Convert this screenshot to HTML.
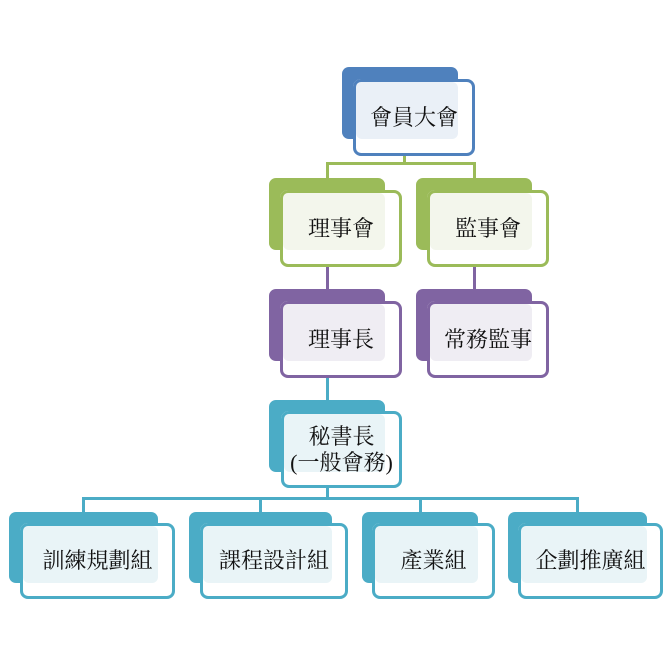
<!DOCTYPE html>
<html><head><meta charset="utf-8"><style>
body{margin:0;width:668px;height:668px;background:#fff;position:relative;overflow:hidden;font-family:"Liberation Serif","Noto Serif CJK SC",serif}
div{position:absolute;box-sizing:border-box}
.b{border-radius:7px}
.f{border:3px solid;border-radius:8px;display:flex;align-items:center;justify-content:center;font-size:22px;color:#111;text-align:center;line-height:26px;background:transparent}
.w{background:#fff;border-radius:8px}
.t{border-radius:6px}
</style></head><body>
<div style="left:403px;top:150px;width:3px;height:15px;background:#9bbb59"></div>
<div style="left:326px;top:162px;width:150px;height:3px;background:#9bbb59"></div>
<div style="left:326px;top:162px;width:3px;height:18px;background:#9bbb59"></div>
<div style="left:473px;top:162px;width:3px;height:18px;background:#9bbb59"></div>
<div style="left:326px;top:262px;width:3px;height:30px;background:#8064a2"></div>
<div style="left:473px;top:262px;width:3px;height:30px;background:#8064a2"></div>
<div style="left:326px;top:373px;width:3px;height:30px;background:#4bacc6"></div>
<div style="left:326px;top:484px;width:3px;height:15px;background:#4bacc6"></div>
<div style="left:82px;top:497px;width:497px;height:3px;background:#4bacc6"></div>
<div style="left:82px;top:497px;width:3px;height:16px;background:#4bacc6"></div>
<div style="left:259px;top:497px;width:3px;height:16px;background:#4bacc6"></div>
<div style="left:419px;top:497px;width:3px;height:16px;background:#4bacc6"></div>
<div style="left:576px;top:497px;width:3px;height:16px;background:#4bacc6"></div>

<div class="b" style="left:342px;top:67px;width:116px;height:72px;background:#4f81bd"></div>
<div class="w" style="left:353px;top:79px;width:122px;height:77px"></div>
<div class="t" style="left:356px;top:82px;width:102px;height:57px;background:#eaf0f7"></div>
<div class="f" style="left:353px;top:79px;width:122px;height:77px;border-color:#4f81bd">會員大會</div>

<div class="b" style="left:269px;top:178px;width:116px;height:72px;background:#9bbb59"></div>
<div class="w" style="left:280px;top:190px;width:122px;height:77px"></div>
<div class="t" style="left:283px;top:193px;width:102px;height:57px;background:#f3f6ec"></div>
<div class="f" style="left:280px;top:190px;width:122px;height:77px;border-color:#9bbb59">理事會</div>

<div class="b" style="left:416px;top:178px;width:116px;height:72px;background:#9bbb59"></div>
<div class="w" style="left:427px;top:190px;width:122px;height:77px"></div>
<div class="t" style="left:430px;top:193px;width:102px;height:57px;background:#f3f6ec"></div>
<div class="f" style="left:427px;top:190px;width:122px;height:77px;border-color:#9bbb59">監事會</div>

<div class="b" style="left:269px;top:289px;width:116px;height:72px;background:#8064a2"></div>
<div class="w" style="left:280px;top:301px;width:122px;height:77px"></div>
<div class="t" style="left:283px;top:304px;width:102px;height:57px;background:#efedf3"></div>
<div class="f" style="left:280px;top:301px;width:122px;height:77px;border-color:#8064a2">理事長</div>

<div class="b" style="left:416px;top:289px;width:116px;height:72px;background:#8064a2"></div>
<div class="w" style="left:427px;top:301px;width:122px;height:77px"></div>
<div class="t" style="left:430px;top:304px;width:102px;height:57px;background:#efedf3"></div>
<div class="f" style="left:427px;top:301px;width:122px;height:77px;border-color:#8064a2">常務監事</div>

<div class="b" style="left:269px;top:400px;width:116px;height:72px;background:#4bacc6"></div>
<div class="w" style="left:281px;top:411px;width:121px;height:77px"></div>
<div class="t" style="left:284px;top:414px;width:101px;height:58px;background:#e9f4f7"></div>
<div class="f" style="left:281px;top:411px;width:121px;height:77px;border-color:#4bacc6">秘書長<br>(一般會務)</div>

<div class="b" style="left:9px;top:512px;width:149px;height:71px;background:#4bacc6"></div>
<div class="w" style="left:20px;top:523px;width:155px;height:76px"></div>
<div class="t" style="left:23px;top:526px;width:135px;height:57px;background:#e9f4f7"></div>
<div class="f" style="left:20px;top:523px;width:155px;height:76px;border-color:#4bacc6">訓練規劃組</div>

<div class="b" style="left:189px;top:512px;width:143px;height:71px;background:#4bacc6"></div>
<div class="w" style="left:200px;top:523px;width:148px;height:76px"></div>
<div class="t" style="left:203px;top:526px;width:129px;height:57px;background:#e9f4f7"></div>
<div class="f" style="left:200px;top:523px;width:148px;height:76px;border-color:#4bacc6">課程設計組</div>

<div class="b" style="left:362px;top:512px;width:116px;height:71px;background:#4bacc6"></div>
<div class="w" style="left:372px;top:523px;width:123px;height:76px"></div>
<div class="t" style="left:375px;top:526px;width:103px;height:57px;background:#e9f4f7"></div>
<div class="f" style="left:372px;top:523px;width:123px;height:76px;border-color:#4bacc6">產業組</div>

<div class="b" style="left:508px;top:512px;width:139px;height:71px;background:#4bacc6"></div>
<div class="w" style="left:518px;top:523px;width:145px;height:76px"></div>
<div class="t" style="left:521px;top:526px;width:126px;height:57px;background:#e9f4f7"></div>
<div class="f" style="left:518px;top:523px;width:145px;height:76px;border-color:#4bacc6">企劃推廣組</div>
</body></html>
